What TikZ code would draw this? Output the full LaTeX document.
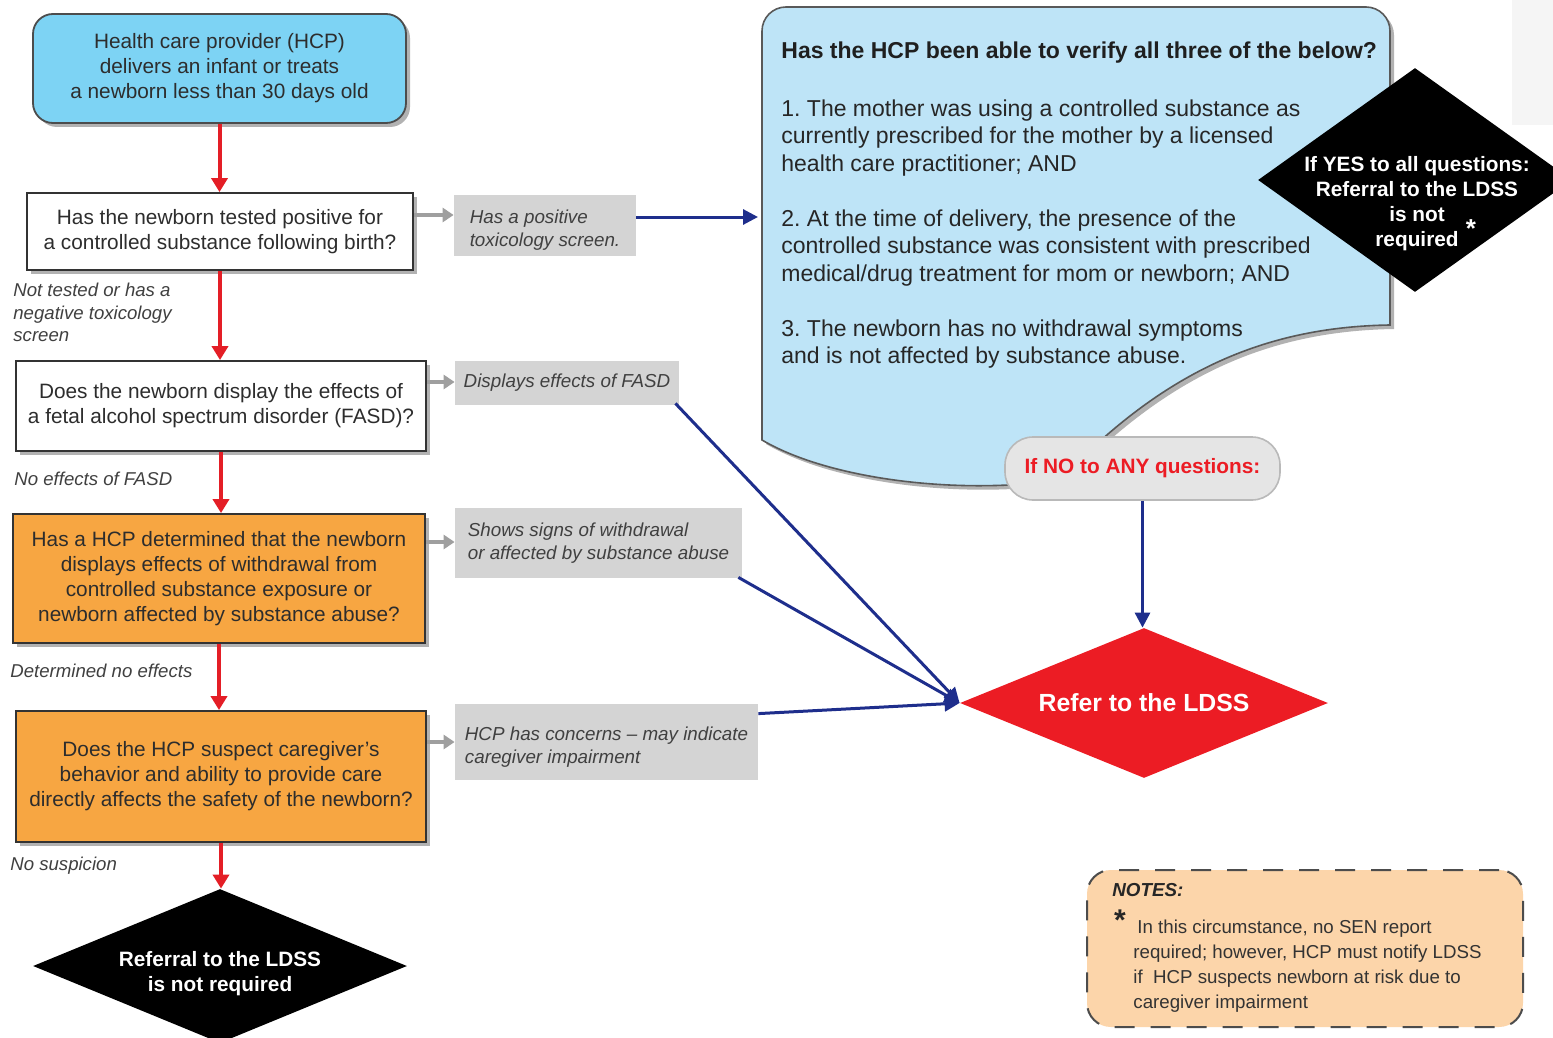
\documentclass[tikz,border=0pt]{standalone}
\usepackage{fontspec}
\setmainfont{Liberation Sans}
\usetikzlibrary{shapes.geometric,arrows.meta,shadows}
\definecolor{startblue}{RGB}{125,211,244}
\definecolor{callblue}{RGB}{190,228,247}
\definecolor{qorange}{RGB}{247,166,66}
\definecolor{lblgray}{RGB}{212,212,212}
\definecolor{redarr}{RGB}{228,30,38}
\definecolor{navy}{RGB}{30,46,140}
\definecolor{redd}{RGB}{236,28,36}
\definecolor{notefill}{RGB}{252,213,170}
\definecolor{txt}{RGB}{45,45,45}
\definecolor{pillgray}{RGB}{229,229,229}
\begin{document}
\begin{tikzpicture}[x=0.5pt,y=-0.5pt,
  boxfont/.style={font=\fontsize{10.4}{12.5}\selectfont},
  shade1/.style={drop shadow={shadow xshift=2pt,shadow yshift=-2pt,opacity=0.3,fill=black}},
  qbox/.style={draw=black!80, line width=0.9pt, text=txt, align=center, inner sep=0pt, boxfont, shade1},
  lbl/.style={fill=lblgray, text=black!75, align=left, inner sep=0pt, font=\fontsize{9.4}{11.5}\selectfont\itshape},
  side/.style={text=black!75, align=left, inner sep=0pt, font=\fontsize{9.3}{11.25}\selectfont\itshape},
  redflow/.style={draw=redarr, line width=2pt, -{Triangle[length=7pt,width=8pt]}},
  grayflow/.style={draw=gray!75, line width=1.6pt, -{Triangle[length=5.5pt,width=7pt]}},
  blueflow/.style={draw=navy, line width=1.5pt, -{Triangle[length=7.5pt,width=7.5pt]}},
  dia/.style={diamond, inner sep=0pt, text=white, align=center, font=\bfseries\fontsize{10.4}{12.5}\selectfont}
]
\clip (0,0) rectangle (1553,1038);
\fill[white] (0,0) rectangle (1553,1038);
\fill[black!4] (1512,0) rectangle (1553,125);

% callout
\path[fill=callblue, draw=black!65, line width=0.8pt, shade1]
  (762,440) [rounded corners=12pt] -- (762,7) -- (1390,7) [sharp corners] -- (1390,325)
  .. controls (1260,327) and (1160,375) .. (1060,480)
  .. controls (960,495) and (830,480) .. (762,440) -- cycle;
\node[anchor=west, inner sep=0pt, text=black!88, font=\bfseries\fontsize{11.5}{13.75}\selectfont] (chead) at (781,53) {Has the HCP been able to verify all three of the below?};
\node[anchor=north west, inner sep=0pt, align=left, text=black!85, font=\fontsize{11.5}{13.75}\selectfont] (ctext) at (781,99)
 {1.\ The mother was using a controlled substance as\\currently prescribed for the mother by a licensed\\health care practitioner; AND\\[13.75pt]
  2.\ At the time of delivery, the presence of the\\controlled substance was consistent with prescribed\\medical/drug treatment for mom or newborn; AND\\[13.75pt]
  3.\ The newborn has no withdrawal symptoms\\and is not affected by substance abuse.};

% right black diamond
\node[dia, fill=black, minimum width=157pt, minimum height=112pt] (yd) at (1415,180) {};
\node[inner sep=0pt, text=white, align=center, font=\bfseries\fontsize{10.4}{12.5}\selectfont] (ydt) at (1417,204) {If YES to all questions:\\Referral to the LDSS\\is not\\required};
\node[inner sep=0pt, text=white, font=\bfseries\fontsize{13}{13}\selectfont] (ast) at (1471,229) {*};

% pill
\node[draw=gray!55, fill=pillgray, rounded corners=14pt, minimum width=137.5pt, minimum height=31.5pt, text=redd, font=\bfseries\fontsize{10.4}{12.5}\selectfont, line width=0.8pt] (pill) at (1142.5,468.5) {If NO to ANY questions:};

% left column
\node[qbox, fill=startblue, rounded corners=10pt, minimum width=186.5pt, minimum height=54.5pt, draw=black!70] (start) at (219.5,68.5) {Health care provider (HCP)\\delivers an infant or treats\\a newborn less than 30 days old};
\node[qbox, fill=white, minimum width=193pt, minimum height=38.5pt] (q1) at (220,231.5) {Has the newborn tested positive for\\a controlled substance following birth?};
\node[qbox, fill=white, minimum width=205pt, minimum height=45pt] (q2) at (221,406) {Does the newborn display the effects of\\a fetal alcohol spectrum disorder (FASD)?};
\node[qbox, fill=qorange, minimum width=206pt, minimum height=64.5pt] (q3) at (219,578.5) {Has a HCP determined that the newborn\\displays effects of withdrawal from\\controlled substance exposure or\\newborn affected by substance abuse?};
\node[qbox, fill=qorange, minimum width=205pt, minimum height=65.5pt] (q4) at (221,776.5) {Does the HCP suspect caregiver’s\\behavior and ability to provide care\\directly affects the safety of the newborn?};
\node[dia, fill=black, aspect=2.4, minimum width=187pt, minimum height=77pt] (nd) at (220,966) {\rule{0pt}{15pt}Referral to the LDSS\\is not required};

% gray labels
\node[lbl, minimum width=91pt, minimum height=30.5pt] (l1) at (545,225.5) {\rule{0pt}{11pt}Has a positive\\toxicology screen.};
\node[lbl, minimum width=112pt, minimum height=22pt] (l2) at (567,383) {Displays effects of FASD};
\node[lbl, minimum width=143.5pt, minimum height=35pt] (l3) at (598.5,543) {Shows signs of withdrawal\\or affected by substance abuse};
\node[lbl, minimum width=151.5pt, minimum height=38pt] (l4) at (606.5,742) {\rule{0pt}{12pt}HCP has concerns – may indicate\\caregiver impairment};

% side labels
\node[side, anchor=north west] (s1) at (13,283) {Not tested or has a\\negative toxicology\\screen};
\node[side, anchor=west] (s2) at (14,479) {No effects of FASD};
\node[side, anchor=west] (s3) at (10,671) {Determined no effects};
\node[side, anchor=west] (s4) at (10,866) {No suspicion};

% red diamond
\node[dia, fill=redd, aspect=2.45, minimum width=184pt, minimum height=75pt, font=\bfseries\fontsize{12.4}{14}\selectfont] (rd) at (1144,703) {Refer to the LDSS};

% notes
\node[draw=black!70, dash pattern=on 10pt off 8pt, line width=1pt, fill=notefill, rounded corners=12pt, minimum width=218pt, minimum height=78.5pt] (notes) at (1305,948.5) {};
\node[anchor=west, inner sep=0pt, font=\bfseries\itshape\fontsize{9.4}{11}\selectfont, text=black!85] (ntitle) at (1112,890) {NOTES:};
\node[inner sep=0pt, font=\bfseries\fontsize{15}{15}\selectfont, text=black!85] (nast) at (1120,920) {*};
\node[anchor=north west, inner sep=0pt, align=left, font=\fontsize{9.35}{12.5}\selectfont, text=black!80] (ntext) at (1133,920) {\hspace*{2pt}In this circumstance, no SEN report\\required; however, HCP must notify LDSS\\if\ \ HCP suspects newborn at risk due to\\caregiver impairment};

% red flow
\draw[redflow] (start.south) -- (start.south |- q1.north);
\draw[redflow] (q1.south) -- (q1.south |- q2.north);
\draw[redflow] (q2.south) -- (q2.south |- q3.north);
\draw[redflow] (q3.south) -- (q3.south |- q4.north);
\draw[redflow] (q4.south) -- (q4.south |- nd.north);

% gray arrows
\coordinate (g1) at ([yshift=8.25pt]q1.east);
\coordinate (g2) at ([yshift=12pt]q2.east);
\coordinate (g3) at ([yshift=18.25pt]q3.east);
\coordinate (g4) at ([yshift=17.25pt]q4.east);
\draw[grayflow] (g1) -- (g1 -| l1.west);
\draw[grayflow] (g2) -- (g2 -| l2.west);
\draw[grayflow] (g3) -- (g3 -| l3.west);
\draw[grayflow] (g4) -- (g4 -| l4.west);

% blue arrows
\coordinate (cin) at (758,217);
\coordinate (l2o) at ([xshift=-2pt,yshift=1pt]l2.south east);
\coordinate (l3o) at ([xshift=-2pt,yshift=0.5pt]l3.south east);
\coordinate (l4o) at ([yshift=-5pt]l4.north east);
\draw[blueflow] (l1.east |- cin) -- (cin);
\draw[blueflow] (l2o) -- (rd.west);
\draw[blueflow] (l3o) -- (rd.west);
\draw[blueflow] (l4o) -- (rd.west);
\draw[blueflow] (pill.south) -- (pill.south |- rd.north);
\end{tikzpicture}
\end{document}
